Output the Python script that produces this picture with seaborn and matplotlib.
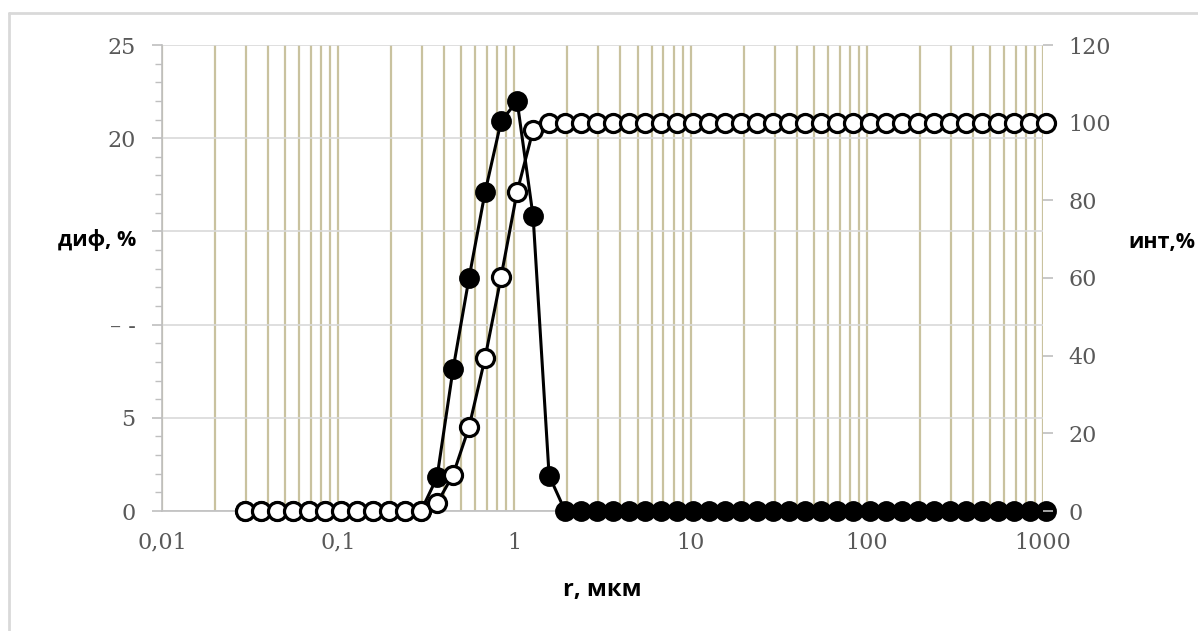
import numpy as np
import pandas as pd
import matplotlib
matplotlib.use("Agg")
import matplotlib.pyplot as plt
from matplotlib.ticker import LogLocator, MultipleLocator, NullFormatter
from matplotlib.lines import Line2D
import seaborn as sns

# ─── DATA ───────────────────────────────────────────────────────────────────

r_um = [0.0295, 0.0364, 0.0448, 0.0553, 0.0681, 0.0840, 0.1036, 0.1277, 0.1574,
        0.1941, 0.2393, 0.2950, 0.3637, 0.4484, 0.5528, 0.6815, 0.8402, 1.036,
        1.277, 1.574, 1.941, 2.393, 2.950, 3.637, 4.484, 5.528, 6.815, 8.402,
        10.36, 12.77, 15.74, 19.41, 23.93, 29.50, 36.37, 44.84, 55.28, 68.15,
        84.02, 103.6, 127.7, 157.4, 194.1, 239.3, 295.0, 363.7, 448.4, 552.8,
        681.5, 840.2, 1036]

# differential distribution, % (left axis)
dif = [0] * 12 + [1.8, 7.6, 12.5, 17.1, 20.9, 22.0, 15.8, 1.9] + [0] * 31

# integral distribution, % (right axis)
integ = [0] * 12 + [2, 9.3, 21.6, 39.4, 60.3, 82.2, 98.1] + [100] * 32

x_ticks = [0.01, 0.1, 1, 10, 100, 1000]
x_tick_labels = ["0,01", "0,1", "1", "10", "100", "1000"]
left_ticks = [0, 5, 10, 15, 20, 25]
left_tick_labels = ["0", "5", "– -", "", "20", "25"]
right_ticks = [0, 20, 40, 60, 80, 100, 120]

df = pd.DataFrame({"r": r_um, "dif": dif, "int": integ})

# ─── STYLE ──────────────────────────────────────────────────────────────────

sns.set_theme(style="white")
plt.rcParams["font.family"] = ["DejaVu Serif"]

GRID_TAN = "#c9c29f"
GRID_GRAY = "#d9d9d9"
TICK_GRAY = "#bfbfbf"
LABEL_GRAY = "#595959"

fig = plt.figure(figsize=(11.98, 6.31), dpi=100)
ax = fig.add_axes([162 / 1198, 120 / 631, 881 / 1198, 466 / 631])
ax2 = ax.twinx()

# ─── PLOTS ──────────────────────────────────────────────────────────────────

sns.lineplot(data=df, x="r", y="dif", ax=ax, color="black", linewidth=2.2,
             marker="o", markersize=13, markerfacecolor="black",
             markeredgecolor="black", markeredgewidth=2, clip_on=False, zorder=5)
sns.lineplot(data=df, x="r", y="int", ax=ax2, color="black", linewidth=2.2,
             marker="o", markersize=13, markerfacecolor="white",
             markeredgecolor="black", markeredgewidth=2.3, clip_on=False, zorder=5)

# x axis (log)
ax.set_xscale("log")
ax.set_xlim(0.01, 1000)
ax.set_xticks(x_ticks, labels=x_tick_labels)
ax.xaxis.set_minor_locator(LogLocator(base=10, subs=range(2, 10), numticks=50))
ax.xaxis.set_minor_formatter(NullFormatter())
ax.grid(True, which="both", axis="x", color=GRID_TAN, linewidth=1.6, zorder=0)
ax.grid(True, which="major", axis="y", color=GRID_GRAY, linewidth=1.2, zorder=0)
ax.set_axisbelow(True)

# left axis
ax.set_ylim(0, 25)
ax.set_yticks(left_ticks, labels=left_tick_labels)
ax.yaxis.set_minor_locator(MultipleLocator(1))

# right axis
ax2.set_ylim(0, 120)
ax2.set_yticks(right_ticks)
ax2.grid(False)

ax.set_xlabel("")
ax.set_ylabel("")
ax2.set_ylabel("")

for s in ["top", "right"]:
    ax.spines[s].set_visible(False)
for s in ["top", "right", "left", "bottom"]:
    ax2.spines[s].set_visible(False)
ax.spines["left"].set_color(TICK_GRAY)
ax.spines["bottom"].set_color(TICK_GRAY)
ax.spines["left"].set_linewidth(1.2)
ax.spines["bottom"].set_linewidth(1.2)

ax.tick_params(axis="x", which="major", direction="out", length=7, width=1.2,
               color=TICK_GRAY, labelsize=16, labelcolor=LABEL_GRAY, pad=8)
ax.tick_params(axis="x", which="minor", length=0)
ax.tick_params(axis="y", which="major", direction="out", length=7, width=1.2,
               color=TICK_GRAY, labelsize=16, labelcolor=LABEL_GRAY, pad=12, left=True)
ax.tick_params(axis="y", which="minor", direction="out", length=5, width=1.0,
               color=TICK_GRAY, left=True)
ax2.tick_params(axis="y", which="major", direction="out", length=7, width=1.2,
                color=TICK_GRAY, labelsize=16, labelcolor=LABEL_GRAY, pad=11, right=True)

# ─── LABELS ─────────────────────────────────────────────────────────────────

lab = dict(fontweight="bold", color="black", family=["Open Sans", "DejaVu Sans"])
fig.text(602 / 1198, 1 - 590 / 631, "r, мкм", ha="center", va="center",
         fontsize=17, **lab)
fig.text(97 / 1198, 1 - 240 / 631, "диф, %", ha="center", va="center",
         fontsize=15.5, **lab)
fig.text(1162 / 1198, 1 - 243 / 631, "инт,%", ha="center", va="center",
         fontsize=15.5, **lab)

# outer chart frame (left and top edges visible)
fig.add_artist(Line2D([9 / 1198, 9 / 1198], [0, 1 - 13 / 631],
                      color=GRID_GRAY, linewidth=2, transform=fig.transFigure))
fig.add_artist(Line2D([9 / 1198, 1], [1 - 13 / 631, 1 - 13 / 631],
                      color=GRID_GRAY, linewidth=2, transform=fig.transFigure))

fig.savefig("out.png", dpi=100)
